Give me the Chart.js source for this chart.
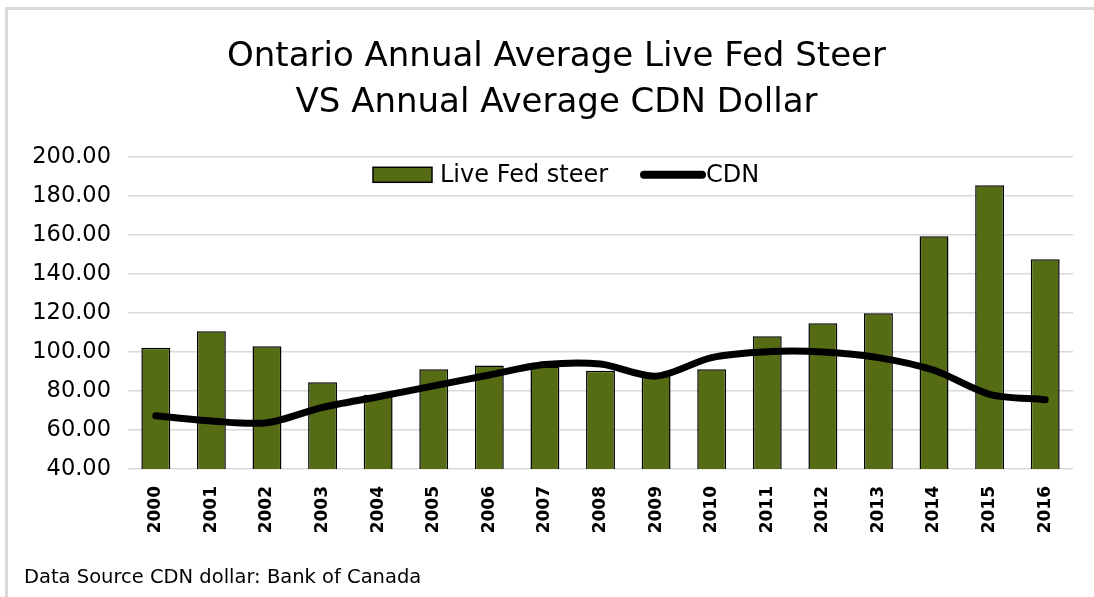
<!DOCTYPE html>
<html>
<head>
<meta charset="utf-8">
<script src="https://cdn.jsdelivr.net/npm/chart.js@4"></script>
<style>
html,body{margin:0;padding:0;background:#fff;}
#wrap{width:1094px;height:597px;position:relative;}
</style>
</head>
<body>
<div id="wrap"><canvas id="c" width="1094" height="597"></canvas></div>
<script>
const titleLines = ["Ontario Annual Average Live Fed Steer", "VS Annual Average CDN Dollar"];
const years = ["2000","2001","2002","2003","2004","2005","2006","2007","2008","2009","2010","2011","2012","2013","2014","2015","2016"];
const steer = [102.1, 110.6, 102.9, 84.4, 78.0, 91.1, 93.1, 92.5, 90.4, 87.5, 91.1, 108.0, 114.7, 119.8, 159.3, 185.4, 147.5];
const cdn = [67.3, 64.6, 63.7, 71.6, 77.0, 82.6, 88.2, 93.5, 93.8, 87.6, 97.1, 100.1, 100.0, 97.1, 90.6, 78.3, 75.5];
const yTicks = { min: 40, max: 200, step: 20 };
const footerText = "Data Source CDN dollar: Bank of Canada";
const seriesNames = ["Live Fed steer", "CDN"];

const FONT = "'DejaVu Sans', 'Liberation Sans', sans-serif";
const barColor = "#556B14";

const framePlugin = {
  id: 'frame',
  afterLayout(chart) {
    const tb = chart.titleBlock;
    if (tb) { tb.left += 16; tb.right += 16; }
  },
  beforeDraw(chart) {
    const ctx = chart.ctx;
    ctx.save();
    ctx.fillStyle = '#fff';
    ctx.fillRect(0, 0, chart.width, chart.height);
    ctx.strokeStyle = '#d9d9d9';
    ctx.lineWidth = 3;
    ctx.beginPath();
    ctx.moveTo(6.5, chart.height);
    ctx.lineTo(6.5, 8.5);
    ctx.lineTo(chart.width, 8.5);
    ctx.stroke();
    ctx.restore();
  },
  afterDraw(chart) {
    const ctx = chart.ctx;
    ctx.save();
    // footer
    ctx.fillStyle = '#000';
    ctx.font = "19.5px " + FONT;
    ctx.textBaseline = 'middle';
    ctx.textAlign = 'left';
    ctx.fillText(footerText, 24, 578);
    // legend
    const ca = chart.chartArea;
    const y = ca.top + 18;
    let x = 373;
    ctx.font = "24px " + FONT;
    const ds0 = chart.data.datasets[1];
    ctx.fillStyle = ds0.backgroundColor;
    ctx.strokeStyle = '#000';
    ctx.lineWidth = 1.5;
    ctx.fillRect(x, y - 7.5, 59, 15);
    ctx.strokeRect(x, y - 7.5, 59, 15);
    x += 67;
    ctx.fillStyle = '#000';
    ctx.fillText(ds0.label, x, y + 1);
    x = 640;
    const ds1 = chart.data.datasets[0];
    ctx.strokeStyle = ds1.borderColor;
    ctx.lineWidth = 8;
    ctx.lineCap = 'round';
    ctx.beginPath();
    ctx.moveTo(x + 4, y);
    ctx.lineTo(x + 62, y);
    ctx.stroke();
    ctx.fillText(ds1.label, x + 66, y + 1);
    ctx.restore();
  }
};

new Chart(document.getElementById('c'), {
  data: {
    labels: years,
    datasets: [
      {
        type: 'line',
        label: seriesNames[1],
        data: cdn,
        borderColor: '#000',
        backgroundColor: '#000',
        borderWidth: 7,
        borderCapStyle: 'round',
        borderJoinStyle: 'round',
        pointRadius: 0,
        tension: 0.3,
        order: 0
      },
      {
        type: 'bar',
        label: seriesNames[0],
        data: steer,
        backgroundColor: barColor,
        borderColor: '#000',
        borderWidth: 1.5,
        borderSkipped: 'bottom',
        barPercentage: 0.52,
        categoryPercentage: 1.0,
        order: 1
      }
    ]
  },
  options: {
    responsive: false,
    animation: false,
    devicePixelRatio: 1,
    layout: { padding: { left: 8, right: 21, top: 0, bottom: 0 } },
    plugins: {
      legend: { display: false },
      tooltip: { enabled: false },
      title: {
        display: true,
        text: titleLines,
        color: '#000',
        font: { family: FONT, size: 34, weight: 'normal', lineHeight: 1.35 },
        padding: { top: 34, bottom: 31 }
      }
    },
    scales: {
      x: {
        grid: { display: false, drawTicks: false },
        border: { display: false },
        ticks: {
          color: '#000',
          font: { family: FONT, size: 17, weight: 'bold' },
          minRotation: 90,
          maxRotation: 90,
          padding: 17,
          autoSkip: false
        },
        afterFit(s) { s.height = 597 - 469; }
      },
      y: {
        min: yTicks.min,
        max: yTicks.max,
        grid: { color: '#d9d9d9', lineWidth: 1.5, drawTicks: false },
        border: { display: false },
        ticks: {
          stepSize: yTicks.step,
          color: '#000',
          font: { family: FONT, size: 22.5 },
          padding: 17,
          callback: v => Number(v).toFixed(2)
        },
        afterFit(s) { s.width = 120; }
      }
    }
  },
  plugins: [framePlugin]
});
</script>
</body>
</html>
